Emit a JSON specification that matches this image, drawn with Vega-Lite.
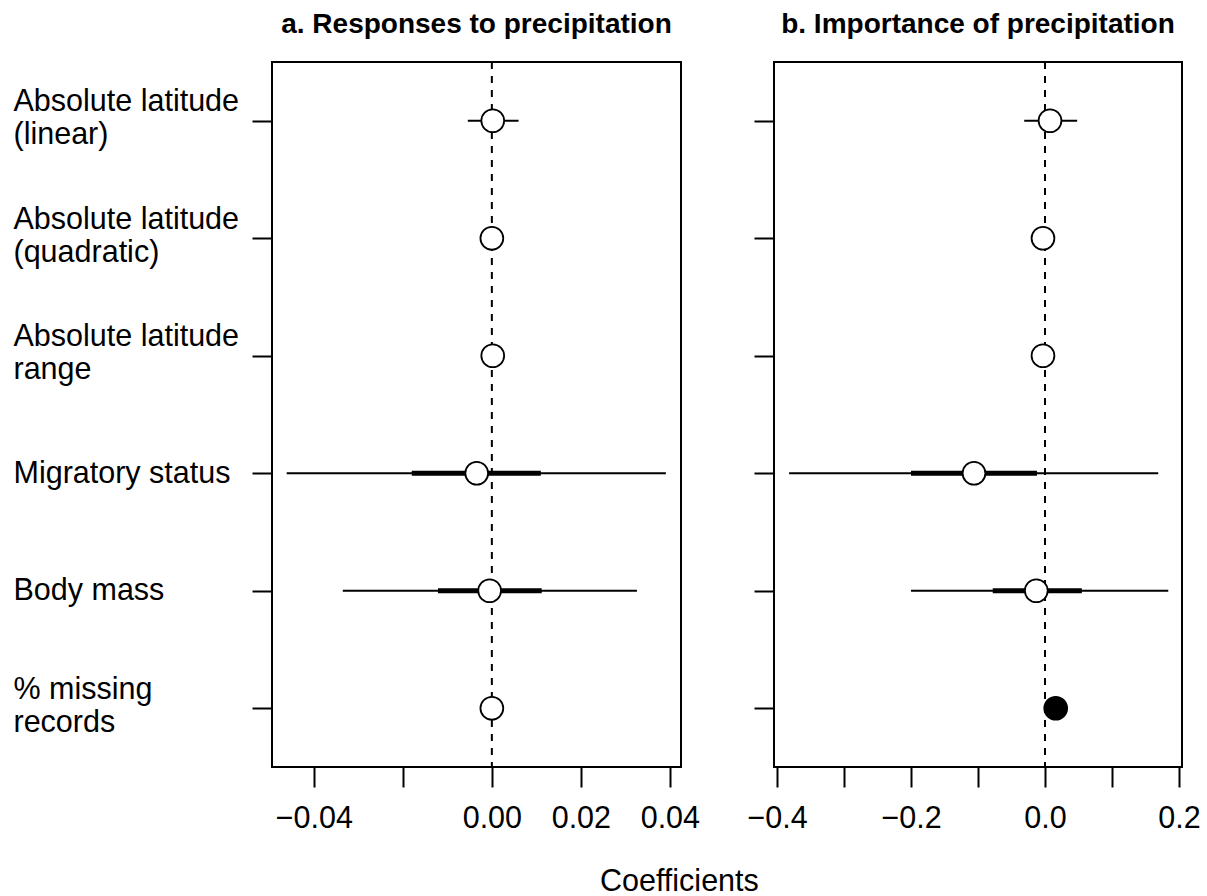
{
  "$schema": "https://vega.github.io/schema/vega-lite/v6.json",
  "padding": {"left": 12, "top": 10, "right": 0, "bottom": 0},
  "background": "white",
  "config": {
    "font": "Liberation Sans",
    "view": {"stroke": "black", "strokeWidth": 2},
    "axis": {"domain": false, "grid": false, "tickColor": "black", "tickWidth": 2, "tickSize": 20, "labelColor": "black", "labelFontSize": 30.5, "labelFont": "Liberation Sans", "title": null}
  },
  "datasets": {
    "coef": [
      {"panel": "a", "order": 1, "var": "Absolute latitude|(linear)", "est": 0.0002, "lo95": -0.0054, "hi95": 0.0060, "lo50": -0.0020, "hi50": 0.0020, "sig": "no"},
      {"panel": "a", "order": 2, "var": "Absolute latitude|(quadratic)", "est": 0.0000, "lo95": -0.0003, "hi95": 0.0003, "lo50": -0.0002, "hi50": 0.0002, "sig": "no"},
      {"panel": "a", "order": 3, "var": "Absolute latitude|range", "est": 0.0002, "lo95": -0.0004, "hi95": 0.0008, "lo50": -0.0001, "hi50": 0.0005, "sig": "no"},
      {"panel": "a", "order": 4, "var": "Migratory status", "est": -0.0034, "lo95": -0.0461, "hi95": 0.0391, "lo50": -0.0180, "hi50": 0.0110, "sig": "no"},
      {"panel": "a", "order": 5, "var": "Body mass", "est": -0.0005, "lo95": -0.0335, "hi95": 0.0326, "lo50": -0.0121, "hi50": 0.0112, "sig": "no"},
      {"panel": "a", "order": 6, "var": "% missing|records", "est": 0.0000, "lo95": -0.0003, "hi95": 0.0003, "lo50": -0.0002, "hi50": 0.0002, "sig": "no"},
      {"panel": "b", "order": 1, "var": "Absolute latitude|(linear)", "est": 0.0075, "lo95": -0.031, "hi95": 0.048, "lo50": -0.008, "hi50": 0.022, "sig": "no"},
      {"panel": "b", "order": 2, "var": "Absolute latitude|(quadratic)", "est": -0.003, "lo95": -0.006, "hi95": 0.000, "lo50": -0.005, "hi50": -0.001, "sig": "no"},
      {"panel": "b", "order": 3, "var": "Absolute latitude|range", "est": -0.003, "lo95": -0.007, "hi95": 0.001, "lo50": -0.005, "hi50": -0.001, "sig": "no"},
      {"panel": "b", "order": 4, "var": "Migratory status", "est": -0.106, "lo95": -0.382, "hi95": 0.169, "lo50": -0.200, "hi50": -0.012, "sig": "no"},
      {"panel": "b", "order": 5, "var": "Body mass", "est": -0.013, "lo95": -0.200, "hi95": 0.184, "lo50": -0.078, "hi50": 0.055, "sig": "no"},
      {"panel": "b", "order": 6, "var": "% missing|records", "est": 0.016, "lo95": 0.010, "hi95": 0.022, "lo50": 0.013, "hi50": 0.019, "sig": "yes"}
    ]
  },
  "spacing": 44,
  "title": {"text": "Coefficients", "orient": "bottom", "anchor": "start", "fontSize": 30.5, "fontWeight": "normal", "color": "black", "font": "Liberation Sans", "offset": 32, "dx": 588},
  "hconcat": [
    {
      "width": 409,
      "height": 705,
      "title": {"text": "a. Responses to precipitation", "fontSize": 28, "fontWeight": "bold", "color": "black", "font": "Liberation Sans", "offset": 22},
      "data": {"name": "coef"},
      "transform": [{"filter": "datum.panel == 'a'"}],
      "layer": [
        {
          "transform": [{"filter": "datum.order == 1"}],
          "mark": {"type": "rule", "strokeDash": [7, 7], "strokeWidth": 2, "color": "black"},
          "encoding": {"x": {"datum": 0, "type": "quantitative", "scale": {"domain": [-0.0494, 0.0425], "nice": false, "zero": false}}}
        },
        {
          "mark": {"type": "rule", "strokeWidth": 2.2, "color": "black"},
          "encoding": {
            "x": {"field": "lo95", "type": "quantitative", "scale": {"domain": [-0.0494, 0.0425], "nice": false, "zero": false},
                  "axis": {"values": [-0.04, -0.02, 0, 0.02, 0.04], "format": ".2f", "labelExpr": "datum.value == -0.02 ? '' : datum.label", "labelPadding": 16, "labelFlush": false, "labelOverlap": false}},
            "x2": {"field": "hi95"},
            "y": {"field": "var", "type": "nominal", "sort": {"field": "order"}, "scale": {"type": "point", "padding": 0.5},
                  "axis": {"labelExpr": "split(datum.label, '|')", "labelAlign": "left", "labelPadding": 239, "labelLineHeight": 33, "labelBaseline": "middle", "labelLimit": 400,
                           "labelOffset": {"condition": {"test": "indexof(datum.value, '|') >= 0", "value": -19}, "value": 0}}}
          }
        },
        {
          "mark": {"type": "rule", "strokeWidth": 5, "color": "black"},
          "encoding": {
            "x": {"field": "lo50", "type": "quantitative"},
            "x2": {"field": "hi50"},
            "y": {"field": "var", "type": "nominal", "sort": {"field": "order"}}
          }
        },
        {
          "mark": {"type": "point", "shape": "circle", "filled": true, "size": 520, "stroke": "black", "strokeWidth": 1.8, "opacity": 1},
          "encoding": {
            "x": {"field": "est", "type": "quantitative"},
            "y": {"field": "var", "type": "nominal", "sort": {"field": "order"}},
            "fill": {"field": "sig", "type": "nominal", "scale": {"domain": ["no", "yes"], "range": ["white", "black"]}, "legend": null}
          }
        }
      ]
    },
    {
      "width": 408,
      "height": 705,
      "title": {"text": "b. Importance of precipitation", "fontSize": 28, "fontWeight": "bold", "color": "black", "font": "Liberation Sans", "offset": 22},
      "data": {"name": "coef"},
      "transform": [{"filter": "datum.panel == 'b'"}],
      "layer": [
        {
          "transform": [{"filter": "datum.order == 1"}],
          "mark": {"type": "rule", "strokeDash": [7, 7], "strokeWidth": 2, "color": "black"},
          "encoding": {"x": {"datum": 0, "type": "quantitative", "scale": {"domain": [-0.4045, 0.2045], "nice": false, "zero": false}}}
        },
        {
          "mark": {"type": "rule", "strokeWidth": 2.2, "color": "black"},
          "encoding": {
            "x": {"field": "lo95", "type": "quantitative", "scale": {"domain": [-0.4045, 0.2045], "nice": false, "zero": false},
                  "axis": {"values": [-0.4, -0.3, -0.2, -0.1, 0, 0.1, 0.2], "format": ".1f", "labelExpr": "abs(round(datum.value * 10)) % 2 == 1 ? '' : datum.label", "labelPadding": 16, "labelFlush": false, "labelOverlap": false}},
            "x2": {"field": "hi95"},
            "y": {"field": "var", "type": "nominal", "sort": {"field": "order"}, "scale": {"type": "point", "padding": 0.5},
                  "axis": {"labels": false}}
          }
        },
        {
          "mark": {"type": "rule", "strokeWidth": 5, "color": "black"},
          "encoding": {
            "x": {"field": "lo50", "type": "quantitative"},
            "x2": {"field": "hi50"},
            "y": {"field": "var", "type": "nominal", "sort": {"field": "order"}}
          }
        },
        {
          "mark": {"type": "point", "shape": "circle", "filled": true, "size": 520, "stroke": "black", "strokeWidth": 1.8, "opacity": 1},
          "encoding": {
            "x": {"field": "est", "type": "quantitative"},
            "y": {"field": "var", "type": "nominal", "sort": {"field": "order"}},
            "fill": {"field": "sig", "type": "nominal", "scale": {"domain": ["no", "yes"], "range": ["white", "black"]}, "legend": null}
          }
        }
      ]
    }
  ]
}
